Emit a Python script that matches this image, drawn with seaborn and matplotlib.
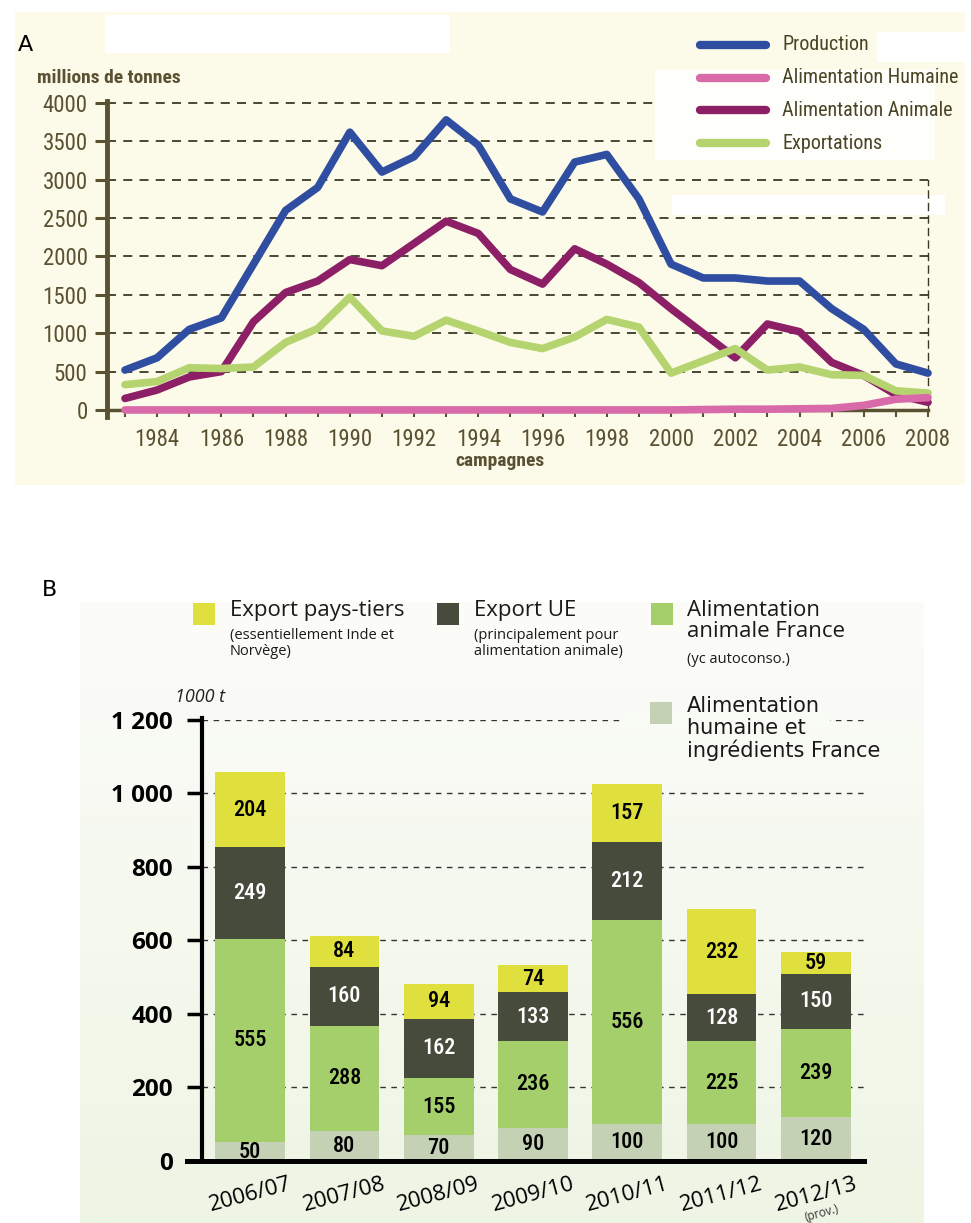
import numpy as np
import pandas as pd
import matplotlib
matplotlib.use("Agg")
import matplotlib.pyplot as plt
import seaborn as sns
from matplotlib.patches import Rectangle
from matplotlib.lines import Line2D

# ---- panel A data ----
years = list(range(1983, 2009))
production = [520, 680, 1050, 1200, 1900, 2600, 2900, 3620, 3100, 3300, 3780, 3450, 2750,
              2580, 3230, 3330, 2750, 1900, 1720, 1720, 1680, 1680, 1320, 1050, 600, 480]
alim_humaine = [0, 0, 0, 0, 0, 0, 0, 0, 0, 0, 0, 0, 0,
                0, 0, 0, 0, 0, 5, 10, 10, 15, 20, 60, 140, 160]
alim_animale = [150, 260, 430, 500, 1150, 1530, 1680, 1960, 1880, 2170, 2460, 2300, 1830,
                1640, 2100, 1900, 1660, 1320, 1000, 680, 1120, 1020, 620, 450, 200, 100]
exportations = [330, 370, 550, 540, 560, 880, 1060, 1470, 1030, 960, 1170, 1030, 880,
                800, 950, 1180, 1080, 480, 640, 800, 520, 560, 460, 450, 250, 220]
series_a = ["Production", "Alimentation Humaine", "Alimentation Animale", "Exportations"]

# ---- panel B data ----
campagnes = ["2006/07", "2007/08", "2008/09", "2009/10", "2010/11", "2011/12", "2012/13"]
humaine_fr = [50, 80, 70, 90, 100, 100, 120]
animale_fr = [555, 288, 155, 236, 556, 225, 239]
export_ue = [249, 160, 162, 133, 212, 128, 150]
export_tiers = [204, 84, 94, 74, 157, 232, 59]

W, H = 971, 1223


def fx(x):
    return x / W


def fy(y):
    return 1 - y / H


def rect(x0, y0, x1, y1, color, z):
    fig.add_artist(Rectangle((fx(x0), fy(y1)), fx(x1) - fx(x0), fy(y0) - fy(y1),
                             transform=fig.transFigure, color=color, lw=0, zorder=z))


sns.set_style("white")
plt.rcParams['font.family'] = ['DejaVu Sans']
NARROW = ['Roboto Condensed', 'Noto Sans', 'DejaVu Sans']
SANS = ['Open Sans', 'DejaVu Sans']

pal_a = {"Production": "#2f4ea1", "Alimentation Humaine": "#d96aa9",
         "Alimentation Animale": "#8d1f67", "Exportations": "#b5d470"}
BROWN = "#5a5132"
TXT_A = "#4a4426"

fig = plt.figure(figsize=(9.71, 12.23), dpi=100)
fig.patch.set_facecolor("white")

# ================= Panel A =================
rect(15, 12, 965, 485, "#fcfbe9", -3)
for r in [(105, 15, 450, 53), (877, 32, 965, 62), (672, 195, 945, 215)]:
    rect(*r, "white", -2)
rect(655, 70, 935, 160, "#fefefa", 1)

axA = fig.add_axes([fx(107), fy(413.8), fx(928) - fx(107), fy(100.7) - fy(413.8)])
axA.set_facecolor("none")

df_a = pd.DataFrame({
    "annee": years * 4,
    "valeur": production + alim_humaine + alim_animale + exportations,
    "serie": sum([[s] * len(years) for s in series_a], []),
})
sns.lineplot(data=df_a, x="annee", y="valeur", hue="serie",
             hue_order=["Alimentation Animale", "Exportations", "Alimentation Humaine", "Production"],
             palette=pal_a, linewidth=5.5, legend=False, ax=axA,
             solid_capstyle="round", solid_joinstyle="round", clip_on=False, zorder=3)

axA.set_xlim(1982.44, 2008)
axA.set_ylim(-50, 4030)
for v in range(500, 4001, 500):
    axA.axhline(v, color="#3b3826", lw=1.3, ls=(0, (5, 4)), zorder=1)

axA.spines["top"].set_visible(False)
axA.spines["left"].set_color(BROWN)
axA.spines["left"].set_linewidth(3.5)
axA.spines["left"].set_bounds(-90, 4030)
axA.spines["bottom"].set_position(("data", 0))
axA.spines["bottom"].set_color(BROWN)
axA.spines["bottom"].set_linewidth(2.5)
axA.spines["right"].set_color("#3b3826")
axA.spines["right"].set_linewidth(1)
axA.spines["right"].set_linestyle((0, (5, 4)))
axA.spines["right"].set_bounds(0, 3000)

axA.set_yticks(range(0, 4001, 500))
axA.set_xticks(years)
axA.set_xticklabels([str(y) if y % 2 == 0 else "" for y in years])
axA.tick_params(axis="y", length=9, width=2.2, color=BROWN, labelsize=16.5,
                labelcolor=BROWN, pad=5, left=True)
axA.tick_params(axis="x", length=5, width=1.5, color=BROWN, labelsize=16.5,
                labelcolor=BROWN, pad=8, bottom=True)
for lbl in axA.get_yticklabels() + axA.get_xticklabels():
    lbl.set_fontfamily(NARROW)
    lbl.set_fontstretch("condensed")
axA.set_xlabel("")
axA.set_ylabel("")

fig.text(fx(37), fy(78), "millions de tonnes", fontsize=14, fontweight="bold",
         family=NARROW, fontstretch="condensed", color=BROWN, va="center")
fig.text(fx(500), fy(461), "campagnes", fontsize=14, fontweight="bold",
         family=NARROW, fontstretch="condensed", color=BROWN, va="center", ha="center")
fig.text(fx(18), fy(45), "A", fontsize=16, va="center", color="black")

for i, s in enumerate(series_a):
    yy = 45 + i * 32.7
    fig.add_artist(Line2D([fx(700), fx(766)], [fy(yy), fy(yy)], color=pal_a[s], lw=6,
                          solid_capstyle="round", transform=fig.transFigure, zorder=4))
    fig.text(fx(782), fy(yy), s, fontsize=14.5, family=NARROW, fontstretch="condensed",
             color=TXT_A, va="center", zorder=4)

# ================= Panel B =================
axG = fig.add_axes([fx(80), 0, fx(923) - fx(80), fy(602)])
t = np.linspace(0, 1, 256)[:, None, None]
top_c = np.array([252, 252, 249]) / 255
bot_c = np.array([238, 245, 228]) / 255
axG.imshow(top_c * (1 - t) + bot_c * t, aspect="auto", extent=[0, 1, 0, 1])
axG.axis("off")
axG.set_zorder(-2)

axB = fig.add_axes([fx(202), fy(1160.7), fx(864) - fx(202), fy(720) - fy(1160.7)])
axB.set_facecolor("none")

c1 = np.array(humaine_fr)
c2 = c1 + np.array(animale_fr)
c3 = c2 + np.array(export_ue)
c4 = c3 + np.array(export_tiers)
df_b = pd.DataFrame({"campagne": campagnes, "c1": c1, "c2": c2, "c3": c3, "c4": c4})

colors_b = {"c4": "#dfe03e", "c3": "#474b3c", "c2": "#a5cf6b", "c1": "#c4d1b5"}
for col in ["c4", "c3", "c2", "c1"]:
    sns.barplot(data=df_b, x="campagne", y=col, color=colors_b[col], saturation=1,
                width=0.74, errorbar=None, linewidth=0, ax=axB, zorder=2)

for v in range(200, 1201, 200):
    axB.axhline(v, color="#333333", lw=1, ls=(0, (4, 4)), zorder=1)

bottoms = [np.zeros(7), c1, c2, c3]
values = [humaine_fr, animale_fr, export_ue, export_tiers]
for k, (b, vals) in enumerate(zip(bottoms, values)):
    for i, v in enumerate(vals):
        axB.text(i, b[i] + v / 2, str(v), ha="center", va="center", fontsize=16,
                 family=NARROW, fontstretch="condensed", fontweight="medium",
                 color="white" if k == 2 else "black", zorder=4)

axB.set_xlim(-0.51, 6.51)
axB.set_ylim(0, 1200)
axB.spines["top"].set_visible(False)
axB.spines["right"].set_visible(False)
axB.spines["left"].set_linewidth(3)
axB.spines["left"].set_color("black")
axB.spines["left"].set_bounds(0, 1205)
axB.spines["bottom"].set_linewidth(3.6)
axB.spines["bottom"].set_color("black")
axB.spines["bottom"].set_bounds(-0.67, 6.51)
axB.spines["left"].set_zorder(5)
axB.spines["bottom"].set_zorder(5)

axB.set_yticks(range(0, 1201, 200))
axB.set_yticklabels(["0", "200", "400", "600", "800", "1 000", "1 200"])
axB.tick_params(axis="y", length=11, width=2.5, color="black", labelsize=17.5,
                labelcolor="black", pad=10, left=True)
axB.tick_params(axis="x", length=0, labelsize=16, labelcolor="black", pad=9)
for lbl in axB.get_yticklabels():
    lbl.set_fontfamily(SANS)
    lbl.set_fontweight("bold")
for lbl in axB.get_xticklabels():
    lbl.set_fontfamily(SANS)
    lbl.set_rotation(15)
axB.set_xlabel("")
axB.set_ylabel("")

fig.text(fx(822), fy(1213), "(prov.)", fontsize=8.5, rotation=15, ha="center",
         va="center", color="#333333", family=SANS)
fig.text(fx(200), fy(697), "1000 t", fontsize=13, style="italic", ha="center",
         va="center", color="#222222", family=SANS)
fig.text(fx(42), fy(590), "B", fontsize=16, va="center", color="black")

# legend of panel B
leg = [
    (193, 230, "#dfe03e", "Export pays-tiers", "(essentiellement Inde et\nNorvège)", 628),
    (437, 474, "#474b3c", "Export UE", "(principalement pour\nalimentation animale)", 628),
    (651, 687, "#a5cf6b", "Alimentation\nanimale France", "(yc autoconso.)", 652),
]
for sx, tx, col, main, sub, sub_y in leg:
    rect(sx, 603, sx + 22, 625, col, 3)
    fig.text(fx(tx), fy(600), main, fontsize=16, family=SANS, color="#1a1a1a",
             va="top", linespacing=1.0, zorder=4)
    fig.text(fx(tx), fy(sub_y), sub, fontsize=10.5, family=SANS,
             color="#1a1a1a", va="top", linespacing=1.05, zorder=4)

rect(622, 713, 830, 727, "#f9fbf5", 1)
rect(650, 702, 672, 724, "#c4d1b5", 3)
fig.text(fx(687), fy(696), "Alimentation\nhumaine et\ningrédients France", fontsize=15,
         color="#1a1a1a", va="top", linespacing=1.1, zorder=4)

fig.savefig("out.png", dpi=100)
